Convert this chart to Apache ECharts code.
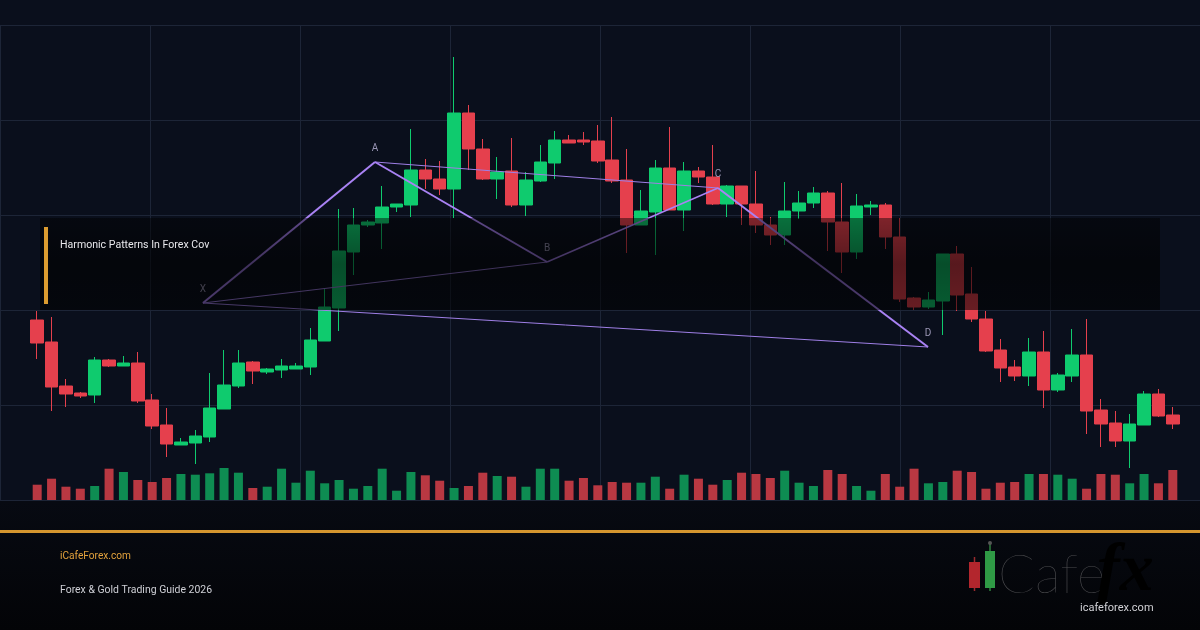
<!DOCTYPE html>
<html>
<head>
<meta charset="utf-8">
<script src="https://cdn.jsdelivr.net/npm/echarts@6/dist/echarts.min.js"></script>
<style>
html,body{margin:0;padding:0;background:#0a0f1c;}
#chart{width:1200px;height:630px;}
</style>
</head>
<body>
<div id="chart"></div>
<script>
// ---- data ----
const opens  = [2180,2158,2114,2107,2105,2140,2134,2137,2100,2075,2055,2057,2063,2091,2114,2138,2128,2130,2131,2133,
                2159,2192,2248,2275,2277,2293,2295,2330,2321,2311,2387,2351,2321,2329,2295,2319,2337,2360,2360,2359,
                2340,2320,2275,2288,2332,2290,2329,2323,2296,2314,2296,2275,2265,2289,2297,2307,2278,2248,2293,2295,
                2263,2202,2193,2199,2246,2206,2181,2150,2133,2124,2148,2110,2124,2145,2090,2077,2059,2075,2106,2085];
const closes = [2157,2113,2106,2104,2140,2134,2137,2099,2074,2056,2058,2064,2092,2115,2137,2129,2131,2134,2134,2160,
                2193,2249,2275,2278,2293,2296,2330,2321,2311,2387,2351,2321,2328,2295,2320,2338,2360,2357,2358,2339,
                2319,2275,2289,2332,2290,2329,2323,2296,2314,2296,2275,2265,2289,2297,2307,2278,2248,2294,2295,2263,
                2201,2193,2200,2246,2205,2181,2149,2132,2124,2148,2110,2125,2145,2089,2076,2059,2076,2106,2084,2076];
const lows   = [2141,2089,2093,2102,2097,2133,2134,2097,2071,2043,2055,2036,2058,2091,2112,2116,2126,2122,2131,2125,
                2159,2169,2225,2273,2251,2288,2283,2311,2305,2282,2330,2320,2301,2293,2284,2318,2321,2357,2355,2337,
                2317,2247,2275,2245,2290,2269,2317,2295,2283,2275,2267,2255,2255,2281,2292,2249,2227,2241,2285,2251,
                2198,2190,2191,2165,2189,2178,2148,2118,2119,2114,2092,2108,2118,2066,2053,2053,2032,2075,2083,2071];
const highs  = [2189,2183,2121,2108,2143,2141,2144,2148,2106,2092,2062,2070,2127,2150,2150,2139,2132,2141,2137,2172,
                2211,2291,2292,2280,2314,2296,2371,2341,2339,2443,2395,2361,2343,2362,2328,2355,2369,2365,2368,2375,
                2383,2351,2310,2340,2373,2338,2333,2355,2315,2314,2329,2283,2318,2309,2313,2309,2317,2306,2299,2297,
                2282,2203,2208,2246,2254,2233,2189,2161,2140,2162,2169,2127,2171,2181,2101,2089,2086,2109,2111,2093];
const volumes = [1530,2130,1330,1130,1400,3130,2800,2000,1800,2200,2600,2530,2670,3200,2730,1200,1330,3130,1730,2930,
                 1670,2000,1130,1400,3130,930,2800,2470,1930,1200,1400,2730,2400,2330,1330,3130,3130,1930,2200,1470,
                 1800,1730,1730,2330,1130,2530,2130,1530,2000,2730,2600,2200,2930,1730,1400,3000,2600,1400,930,2600,
                 1330,3130,1670,1800,2930,2800,1130,1730,1800,2600,2600,2530,2130,1130,2600,2530,1670,2600,1670,3000];
const categories = opens.map((_, i) => 'D' + (i + 1));

// harmonic pattern points (x = candle index, y = price)
const patternNames = ['X','A','B','C','D'];
const patternIdx   = [11.53, 23.5, 35.47, 47.36, 61.97];
const patternPrice = [2197, 2338, 2238, 2312, 2153];

const titleText = 'Harmonic Patterns In Forex Cov';
const siteText = 'iCafeForex.com';
const guideText = 'Forex & Gold Trading Guide 2026';

// ---- build ----
const UP = '#0fcb6e', DOWN = '#e5404d';
const VUP = '#0e8c52', VDOWN = '#b93842';
const candleData = opens.map((o, i) => [o, closes[i], lows[i], highs[i]]);
const volData = volumes.map((v, i) => ({
  value: v,
  itemStyle: { color: closes[i] >= opens[i] ? VUP : VDOWN }
}));
const P = patternNames.map((n, i) => [patternIdx[i], patternPrice[i]]);
function seg(a, b, w, c) {
  return {
    type: 'line', xAxisIndex: 1, yAxisIndex: 0, data: [P[a], P[b]],
    symbol: 'none', silent: true, z: 5,
    lineStyle: { width: w, color: c }, animation: false
  };
}
const LC = '#a982f4', LC2 = '#9f7fe6';

const chart = echarts.init(document.getElementById('chart'), null, { renderer: 'canvas' });
chart.setOption({
  backgroundColor: '#0a0f1c',
  animation: false,
  grid: [
    { left: 30, right: 20, top: 25, bottom: 130 },
    { left: 30, right: 20, bottom: 130, height: 40 },
    { left: 0, right: 0, top: 25, bottom: 130 }
  ],
  xAxis: [
    { type: 'category', data: categories, gridIndex: 0, boundaryGap: true, show: false },
    { type: 'value', gridIndex: 0, min: -0.5, max: 79.5, show: false },
    { type: 'category', data: categories, gridIndex: 1, boundaryGap: true, show: false },
    { type: 'value', gridIndex: 2, min: 0, max: 8, interval: 1,
      axisLine: { show: false }, axisTick: { show: false }, axisLabel: { show: false },
      splitLine: { show: true, lineStyle: { color: '#1d2537', width: 1 } } }
  ],
  yAxis: [
    { type: 'value', gridIndex: 0, min: 2000, max: 2475, show: false },
    { type: 'value', gridIndex: 1, min: 0, max: 4000, show: false },
    { type: 'value', gridIndex: 2, min: 0, max: 5, interval: 1,
      axisLine: { show: false }, axisTick: { show: false }, axisLabel: { show: false },
      splitLine: { show: true, lineStyle: { color: '#1d2537', width: 1 } } }
  ],
  series: [
    { type: 'candlestick', xAxisIndex: 0, yAxisIndex: 0, data: candleData, barWidth: 13, z: 3,
      itemStyle: { color: UP, color0: DOWN, borderColor: UP, borderColor0: DOWN, borderWidth: 1 } },
    { type: 'bar', xAxisIndex: 2, yAxisIndex: 1, data: volData, barWidth: 9, z: 3 },
    seg(0, 4, 1, LC2),           // X-D
    seg(0, 2, 1, LC2),           // X-B
    seg(1, 3, 1, LC2),           // A-C
    seg(0, 1, 2, LC),            // X-A
    seg(1, 2, 2, LC),            // A-B
    seg(2, 3, 1.5, LC),          // B-C
    seg(3, 4, 2, LC),            // C-D
    { type: 'scatter', xAxisIndex: 1, yAxisIndex: 0, symbolSize: 1, z: 6,
      itemStyle: { color: 'rgba(0,0,0,0)' },
      data: P.map((p, i) => ({ value: p, name: patternNames[i] })),
      label: { show: true, position: 'top', distance: 8, formatter: '{b}',
               color: '#bdb6da', fontSize: 10, fontFamily: 'Roboto' } }
  ],
  graphic: { elements: [
    { type: 'rect', z: 100, shape: { x: 40, y: 218, width: 1120, height: 92 },
      style: { fill: new echarts.graphic.LinearGradient(0, 0, 0, 1, [
        { offset: 0, color: 'rgba(0,0,0,0.45)' },
        { offset: 0.5, color: 'rgba(0,0,0,0.62)' },
        { offset: 1, color: 'rgba(0,0,0,0.55)' }]) } },
    { type: 'rect', z: 101, shape: { x: 44, y: 227, width: 4, height: 77 }, style: { fill: '#dc9c30' } },
    { type: 'text', z: 101, x: 60, y: 245, scaleX: 0.92,
      style: { text: titleText, fill: '#e8e8ec', font: '11.5px Roboto', textVerticalAlign: 'middle' } },
    { type: 'rect', z: 90, shape: { x: 0, y: 501, width: 1200, height: 129 },
      style: { fill: new echarts.graphic.LinearGradient(0, 0, 0, 1, [
        { offset: 0, color: '#070a12' }, { offset: 1, color: '#030407' }]) } },
    { type: 'rect', z: 101, shape: { x: 0, y: 530, width: 1200, height: 3 }, style: { fill: '#d4962f' } },
    { type: 'text', z: 101, x: 60, y: 556, scaleX: 0.92,
      style: { text: siteText, fill: '#e3a23c', font: '11px Roboto', textVerticalAlign: 'middle' } },
    { type: 'text', z: 101, x: 60, y: 590, scaleX: 0.95,
      style: { text: guideText, fill: '#cfd0d6', font: '11px Roboto', textVerticalAlign: 'middle' } },
    // logo
    { type: 'line', z: 101, shape: { x1: 974.5, y1: 557, x2: 974.5, y2: 591 }, style: { stroke: '#9a2a2e', lineWidth: 1.5 } },
    { type: 'rect', z: 102, shape: { x: 969, y: 562, width: 11, height: 26 }, style: { fill: '#b3262d' } },
    { type: 'line', z: 101, shape: { x1: 990, y1: 543, x2: 990, y2: 591 }, style: { stroke: '#2e7f3e', lineWidth: 1.5 } },
    { type: 'circle', z: 101, shape: { cx: 990, cy: 543, r: 2 }, style: { fill: '#555' } },
    { type: 'rect', z: 102, shape: { x: 985, y: 551, width: 10, height: 37 }, style: { fill: '#2f9a45' } },
    { type: 'text', z: 101, x: 998, y: 603,
      style: { text: 'Cafe', fill: '#4d4d50', font: '200 54px Lato', textVerticalAlign: 'bottom' } },
    { type: 'text', z: 103, x: 1097, y: 606,
      style: { text: 'fx', font: 'italic bold 68px "Liberation Serif"', textVerticalAlign: 'bottom',
        fill: new echarts.graphic.LinearGradient(0, 0, 0, 1, [
          { offset: 0, color: '#c9aa6c' }, { offset: 1, color: '#8f7040' }]) } },
    { type: 'text', z: 103, x: 1080, y: 608,
      style: { text: 'icafeforex.com', fill: '#d2d2d6', font: '11px Roboto', textVerticalAlign: 'middle' } }
  ] }
});
</script>
</body>
</html>
